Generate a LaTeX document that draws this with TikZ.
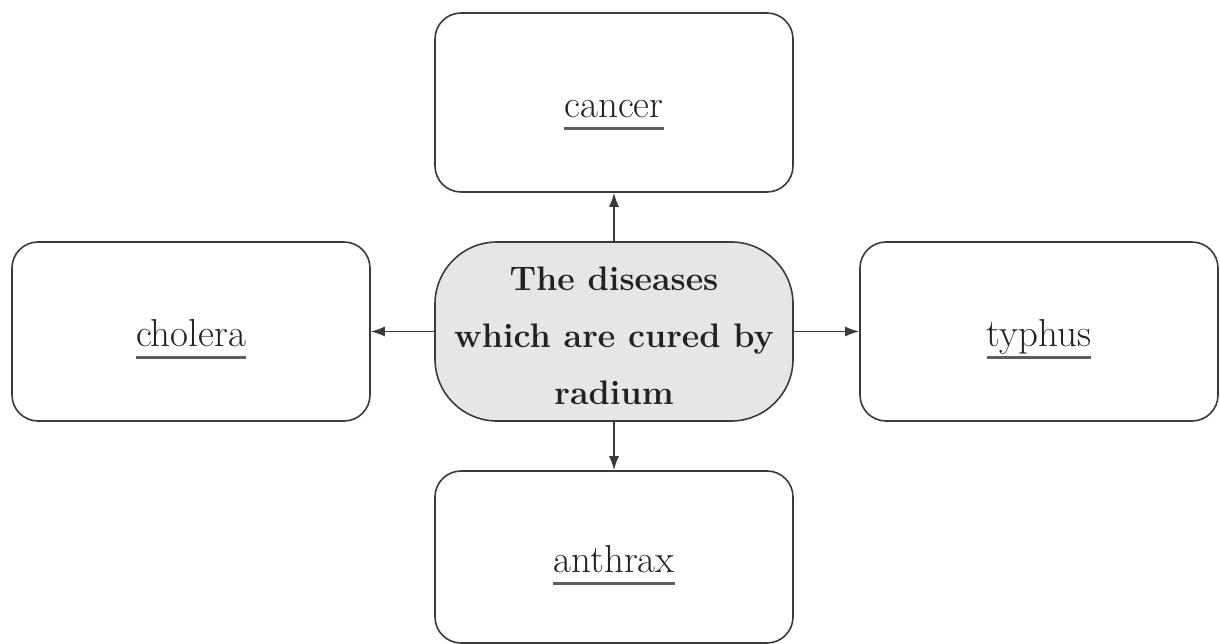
\documentclass[tikz,border=0pt]{standalone}
\usetikzlibrary{arrows.meta}
\definecolor{strokegray}{HTML}{3A3A3A}
\definecolor{textgray}{HTML}{222222}
\definecolor{fillgray}{HTML}{E6E6E6}
\definecolor{ulgray}{HTML}{5E5E5E}
\newcommand{\myul}[1]{\leavevmode\setbox0\hbox{#1}\rlap{\copy0}\raisebox{-0.33em}{\textcolor{ulgray}{\rule{\wd0}{0.085em}}}}
\tikzset{
  leaf/.style={draw=strokegray, line width=1.6pt, rounded corners=26pt, fill=white,
    minimum width=358pt, minimum height=179pt, inner sep=0pt,
    text height=45pt, text depth=15pt,
    text=textgray, font=\fontsize{39}{46}\selectfont},
  hub/.style={draw=strokegray, line width=1.6pt, rounded corners=62pt, fill=fillgray,
    minimum width=358pt, minimum height=179pt, inner sep=0pt, align=center,
    text=textgray, font=\fontsize{34}{57}\selectfont\bfseries},
  link/.style={draw=strokegray, line width=1.5pt, -{Latex[length=14pt,width=10pt]}}
}
\begin{document}
\begin{tikzpicture}[x=1pt,y=-1pt]
\useasboundingbox (0,0) rectangle (1220,644);
\node[hub] (hub) at (614,331.5) {\rule{0pt}{32pt}The diseases\\which are cured by\\radium};
\node[leaf] (cancer) at (614,102.5) {\myul{cancer}};
\node[leaf] (cholera) at (191,331.5) {\myul{cholera}};
\node[leaf] (typhus) at (1039,331.5) {\myul{typhus}};
\node[leaf, minimum height=172pt] (anthrax) at (614,557) {\myul{anthrax}};
\draw[link] (hub.north) -- (cancer.south);
\draw[link] (hub.west) -- (cholera.east);
\draw[link] (hub.east) -- (typhus.west);
\draw[link] (hub.south) -- (anthrax.north);
\end{tikzpicture}
\end{document}
